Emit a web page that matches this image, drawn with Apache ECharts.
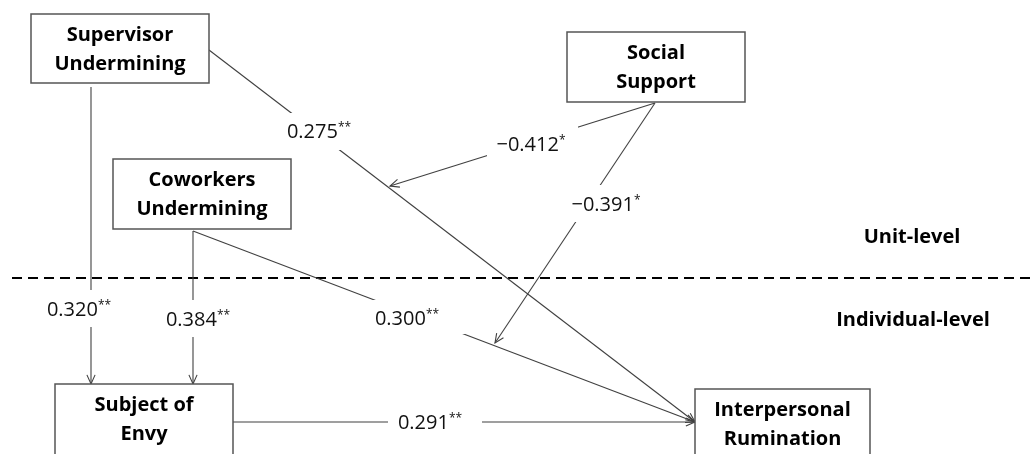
<!DOCTYPE html>
<html>
<head>
<meta charset="utf-8">
<script src="https://cdn.jsdelivr.net/npm/echarts@6/dist/echarts.min.js"></script>
<style>
html,body{margin:0;padding:0;background:#fff;}
#chart{width:1030px;height:454px;}
</style>
</head>
<body>
<div id="chart"></div>
<script>
// ---- Diagram data (canvas units: 1030 x 454, y downward) ----
const nodeNames = ['Supervisor\nUndermining', 'Social\nSupport', 'Coworkers\nUndermining', 'Subject of\nEnvy', 'Interpersonal\nRumination'];
const nodeLeft   = [31, 567, 113, 55, 695];
const nodeTop    = [14, 32, 159, 384, 389];
const nodeRight  = [209, 745, 291, 233, 870];
const nodeBottom = [83, 102, 229, 470, 470];

const pathCoef = ['0.275', '0.320', '0.384', '0.300', '0.291', '\u22120.412', '\u22120.391'];
const pathSig  = ['**', '**', '**', '**', '**', '*', '*'];
const pathStart = [[209, 50], [91, 87], [193, 231], [193, 231], [233, 422], [655, 103], [655, 103]];
const pathEnd   = [[695, 422], [91, 384], [193, 384], [695, 422], [695, 422], [390, 186], [495, 343]];
const labelCenter = [[319, 132], [79, 310], [198, 320], [407, 319], [430, 423], [531, 145], [606, 205]];
const labelGap = [[285, 113, 352, 150], [45, 290, 113, 327], [165, 300, 232, 337], [373, 300, 465, 334], [388, 410, 482, 435], [487, 126, 578, 162], [568, 185, 645, 222]];

const levelNames = ['Unit-level', 'Individual-level'];
const levelPos = [[912, 237], [913, 320]];
const dividerLine = [[12, 278, 1030, 278]];

const FONT = '"Open Sans", "Noto Sans", sans-serif';
const LINE = '#404040';

const chart = echarts.init(document.getElementById('chart'));

const option = {
  animation: false,
  backgroundColor: '#fff',
  grid: {left: 0, right: 0, top: 0, bottom: 0},
  xAxis: {type: 'value', min: 0, max: 1030, show: false},
  yAxis: {type: 'value', min: 0, max: 454, inverse: true, show: false},
  series: [
    {
      type: 'custom', name: 'divider', coordinateSystem: 'cartesian2d', clip: false,
      encode: {x: [0, 2], y: [1, 3]},
      data: dividerLine,
      renderItem: function (params, api) {
        const a = api.coord([api.value(0), api.value(1)]);
        const b = api.coord([api.value(2), api.value(3)]);
        return {type: 'line', shape: {x1: a[0], y1: a[1], x2: b[0], y2: b[1]},
          style: {stroke: '#000', lineWidth: 2, lineDash: [10, 6]}};
      }
    },
    {
      type: 'custom', name: 'paths', coordinateSystem: 'cartesian2d', clip: false,
      encode: {x: [0, 2], y: [1, 3]},
      data: pathStart.map((s, i) => [s[0], s[1], pathEnd[i][0], pathEnd[i][1]]),
      renderItem: function (params, api) {
        const p0 = api.coord([api.value(0), api.value(1)]);
        const p1 = api.coord([api.value(2), api.value(3)]);
        const ang = Math.atan2(p1[1] - p0[1], p1[0] - p0[0]);
        const L = 10, A = 0.42;
        const a1 = [p1[0] - L * Math.cos(ang - A), p1[1] - L * Math.sin(ang - A)];
        const a2 = [p1[0] - L * Math.cos(ang + A), p1[1] - L * Math.sin(ang + A)];
        return {type: 'group', children: [
          {type: 'line', shape: {x1: p0[0], y1: p0[1], x2: p1[0], y2: p1[1]}, style: {stroke: LINE, lineWidth: 1.1}},
          {type: 'polyline', shape: {points: [a1, p1, a2]}, style: {stroke: LINE, fill: null, lineWidth: 1.1}}
        ]};
      }
    },
    {
      type: 'custom', name: 'coefficients', coordinateSystem: 'cartesian2d', clip: false,
      encode: {x: 0, y: 1},
      data: labelCenter.map((c, i) => [c[0], c[1], labelGap[i][0], labelGap[i][1], labelGap[i][2], labelGap[i][3]]),
      renderItem: function (params, api) {
        const i = params.dataIndex;
        const c = api.coord([api.value(0), api.value(1)]);
        const g0 = api.coord([api.value(2), api.value(3)]);
        const g1 = api.coord([api.value(4), api.value(5)]);
        return {type: 'group', children: [
          {type: 'rect', shape: {x: g0[0], y: g0[1], width: g1[0] - g0[0], height: g1[1] - g0[1]}, style: {fill: '#fff'}},
          {type: 'text', x: c[0], y: c[1], style: {
            text: '{n|' + pathCoef[i] + '}{s|' + pathSig[i] + '}',
            align: 'center', verticalAlign: 'middle',
            rich: {
              n: {fontFamily: FONT, fontSize: 20, lineHeight: 26, fill: '#111'},
              s: {fontFamily: FONT, fontSize: 12, lineHeight: 23, fill: '#111', verticalAlign: 'top', padding: [3, 0, 0, 0]}
            }
          }}
        ]};
      }
    },
    {
      type: 'custom', name: 'variables', coordinateSystem: 'cartesian2d', clip: false,
      encode: {x: [0, 2], y: [1, 3]},
      data: nodeNames.map((n, i) => [nodeLeft[i], nodeTop[i], nodeRight[i], nodeBottom[i]]),
      renderItem: function (params, api) {
        const i = params.dataIndex;
        const a = api.coord([api.value(0), api.value(1)]);
        const b = api.coord([api.value(2), api.value(3)]);
        return {type: 'group', children: [
          {type: 'rect', shape: {x: a[0], y: a[1], width: b[0] - a[0], height: b[1] - a[1]},
            style: {fill: '#fff', stroke: '#555', lineWidth: 1.5}},
          {type: 'text', x: (a[0] + b[0]) / 2, y: a[1] + 36, style: {
            text: nodeNames[i], align: 'center', verticalAlign: 'middle',
            font: 'bold 20px ' + FONT, lineHeight: 29, fill: '#000'
          }}
        ]};
      }
    },
    {
      type: 'custom', name: 'levels', coordinateSystem: 'cartesian2d', clip: false,
      encode: {x: 0, y: 1},
      data: levelPos,
      renderItem: function (params, api) {
        const p = api.coord([api.value(0), api.value(1)]);
        return {type: 'text', x: p[0], y: p[1], style: {
          text: levelNames[params.dataIndex], align: 'center', verticalAlign: 'middle',
          font: 'bold 20px ' + FONT, fill: '#000'
        }};
      }
    }
  ]
};
chart.setOption(option);
</script>
</body>
</html>
